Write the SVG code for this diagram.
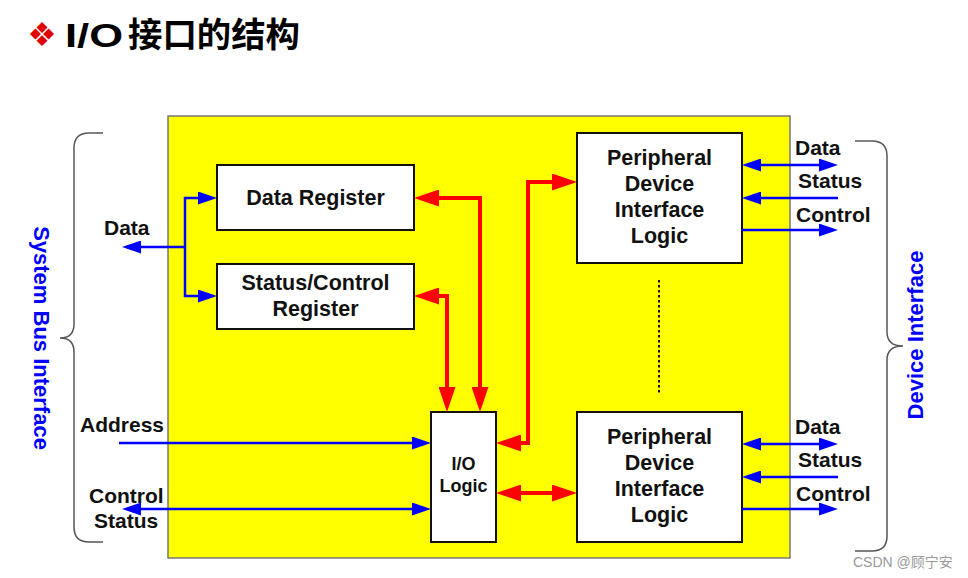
<svg xmlns="http://www.w3.org/2000/svg" width="968" height="578" viewBox="0 0 968 578">
<style>
.box{fill:#fff;stroke:#111;stroke-width:2}
.t{font-family:"Liberation Sans",Arial,sans-serif;font-weight:bold;font-size:21.5px;fill:#111;text-anchor:middle}
.l{font-family:"Liberation Sans",Arial,sans-serif;font-weight:bold;font-size:21px;fill:#111}
.blue{fill:none;stroke:#0000ff;stroke-width:2.5}
.red{fill:none;stroke:#ff0000;stroke-width:4}
.brace{fill:none;stroke:#555;stroke-width:1.5}
.side{font-family:"Liberation Sans",Arial,sans-serif;font-weight:bold;font-size:22px;fill:#0000ff;text-anchor:middle}
</style>
<defs>
<marker id="ra" markerUnits="userSpaceOnUse" markerWidth="25" markerHeight="17" refX="17" refY="8.5" orient="auto-start-reverse"><path d="M0,0 L25,8.5 L0,17 z" fill="#ff0000"/></marker>
<marker id="ba" markerUnits="userSpaceOnUse" markerWidth="19" markerHeight="13" refX="14" refY="6.5" orient="auto-start-reverse"><path d="M0,0 L19,6.5 L0,13 z" fill="#0000ff"/></marker>
</defs>
<rect width="968" height="578" fill="#fff"/>
<g id="title">
<text x="42" y="46" font-family="DejaVu Sans,sans-serif" font-size="33" fill="#e00000" text-anchor="middle">❖</text>
<text y="47" font-family="'Liberation Sans','Noto Sans CJK SC',sans-serif" font-weight="bold" font-size="34" fill="#000"><tspan x="65" textLength="58" lengthAdjust="spacingAndGlyphs">I/O</tspan><tspan x="128" textLength="172" lengthAdjust="spacingAndGlyphs">接口的结构</tspan></text>
</g>
<g id="interface-module">
<rect x="168" y="116" width="622" height="442" fill="#ffff00" stroke="#777" stroke-width="1.5"/>
</g>
<g id="braces">
<path class="brace" d="M103,133 H89 Q74,133 74,148 V324 Q74,338 60,338 Q74,338 74,352 V527 Q74,542 89,542 H103"/>
<path class="brace" d="M855,141 H872 Q887,141 887,156 V332 Q887,346 903,346 Q887,346 887,360 V536 Q887,551 872,551 H855"/>
<text class="side" transform="translate(34,338) rotate(90)">System Bus Interface</text>
<text class="side" transform="translate(923,335) rotate(-90)">Device Interface</text>
</g>
<g id="data-register">
<rect class="box" x="217" y="165" width="197" height="65"/>
<text class="t" x="315.5" y="205">Data Register</text>
</g>
<g id="status-control-register">
<rect class="box" x="217" y="264" width="197" height="65"/>
<text class="t" x="315.5" y="290">Status/Control</text>
<text class="t" x="315.5" y="316">Register</text>
</g>
<g id="io-logic">
<rect class="box" x="431" y="412" width="65" height="130"/>
<text class="t" x="463.5" y="470" style="font-size:18px">I/O</text>
<text class="t" x="463.5" y="492" style="font-size:18px">Logic</text>
</g>
<g id="peripheral-1">
<rect class="box" x="577" y="133" width="165" height="130"/>
<text class="t" x="659.5" y="165">Peripheral</text>
<text class="t" x="659.5" y="191">Device</text>
<text class="t" x="659.5" y="217">Interface</text>
<text class="t" x="659.5" y="243">Logic</text>
</g>
<g id="peripheral-2">
<rect class="box" x="577" y="412" width="165" height="130"/>
<text class="t" x="659.5" y="444">Peripheral</text>
<text class="t" x="659.5" y="470">Device</text>
<text class="t" x="659.5" y="496">Interface</text>
<text class="t" x="659.5" y="522">Logic</text>
</g>
<g id="connectors">
<path class="red" d="M422,198 H480 V404" marker-start="url(#ra)" marker-end="url(#ra)"/>
<path class="red" d="M422,296 H447 V404" marker-start="url(#ra)" marker-end="url(#ra)"/>
<path class="red" d="M504,443 H528 V182 H569" marker-start="url(#ra)" marker-end="url(#ra)"/>
<path class="red" d="M504,493 H569" marker-start="url(#ra)" marker-end="url(#ra)"/>
<path class="blue" d="M185,247 H127" marker-end="url(#ba)"/>
<path class="blue" d="M212,198 H185 V296 H212" marker-start="url(#ba)" marker-end="url(#ba)"/>
<path class="blue" d="M119,443 H426" marker-end="url(#ba)"/>
<path class="blue" d="M127,509 H426" marker-start="url(#ba)" marker-end="url(#ba)"/>
<path class="blue" d="M747,165 H833" marker-start="url(#ba)" marker-end="url(#ba)"/>
<path class="blue" d="M838,198 H747" marker-end="url(#ba)"/>
<path class="blue" d="M742,230 H833" marker-end="url(#ba)"/>
<path class="blue" d="M747,444 H833" marker-start="url(#ba)" marker-end="url(#ba)"/>
<path class="blue" d="M838,477 H747" marker-end="url(#ba)"/>
<path class="blue" d="M742,509 H833" marker-end="url(#ba)"/>
<path d="M659,280 V395" stroke="#111" stroke-width="2" stroke-dasharray="2.5,2.5" fill="none"/>
</g>
<g id="labels">
<text class="l" x="104" y="235">Data</text>
<text class="l" x="80" y="432">Address</text>
<text class="l" x="89" y="503">Control</text>
<text class="l" x="94" y="528">Status</text>
<text class="l" x="795" y="155">Data</text>
<text class="l" x="798" y="188">Status</text>
<text class="l" x="796" y="222">Control</text>
<text class="l" x="795" y="434">Data</text>
<text class="l" x="798" y="467">Status</text>
<text class="l" x="796" y="501">Control</text>
</g>
<text x="853" y="567" font-family="'Liberation Sans','Noto Sans CJK SC',sans-serif" font-size="14" fill="#999">CSDN @顾宁安</text>
</svg>
